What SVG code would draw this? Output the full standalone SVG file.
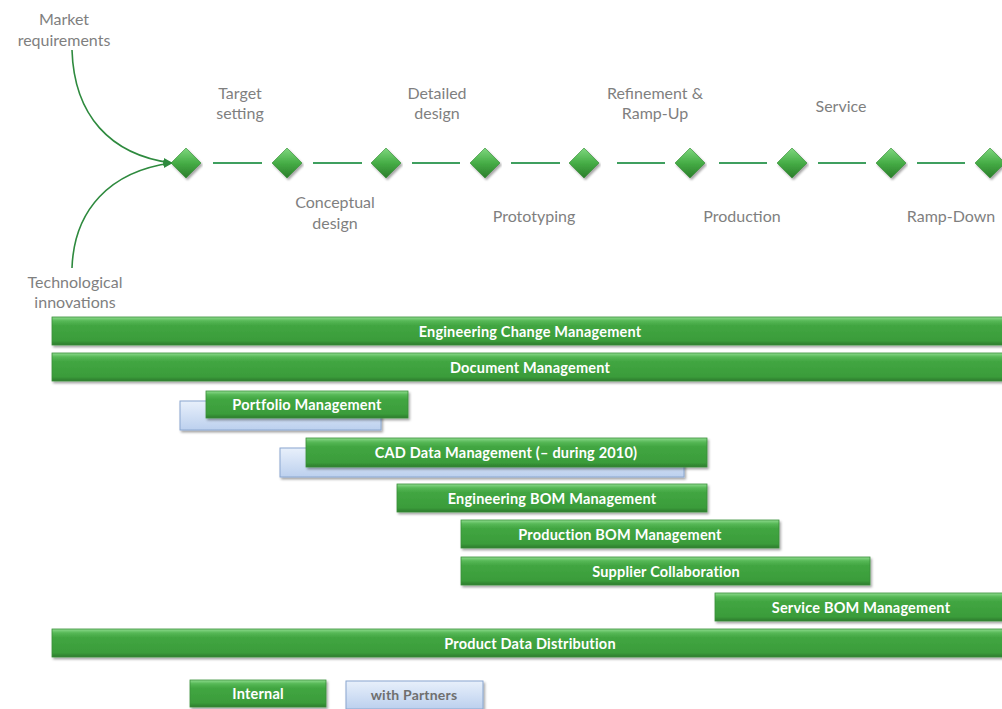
<svg xmlns="http://www.w3.org/2000/svg" width="1002" height="709" viewBox="0 0 1002 709">
  <defs>
    <linearGradient id="gBar" x1="0" y1="0" x2="0" y2="1">
      <stop offset="0" stop-color="#8fdc8f"/>
      <stop offset="0.14" stop-color="#56b856"/>
      <stop offset="0.3" stop-color="#42a642"/>
      <stop offset="0.85" stop-color="#3a9c3a"/>
      <stop offset="1" stop-color="#2b7a2b"/>
    </linearGradient>
    <linearGradient id="bBar" x1="0" y1="0" x2="0" y2="1">
      <stop offset="0" stop-color="#e8f0fb"/>
      <stop offset="1" stop-color="#bcd0ee"/>
    </linearGradient>
    <linearGradient id="gDia" x1="0" y1="0" x2="0" y2="1">
      <stop offset="0" stop-color="#7fd77f"/>
      <stop offset="0.5" stop-color="#46ad46"/>
      <stop offset="1" stop-color="#2a7d2a"/>
    </linearGradient>
    <filter id="shadow" x="-5%" y="-30%" width="110%" height="170%">
      <feDropShadow dx="1.5" dy="2" stdDeviation="1.2" flood-color="#000" flood-opacity="0.35"/>
    </filter>
    <marker id="arrow" viewBox="0 0 10 10" refX="9" refY="5" markerWidth="6" markerHeight="6" orient="auto">
      <path d="M0,1 L10,5 L0,9 z" fill="#2e8a3e"/>
    </marker>
    <style>
      .lbl { font-family: Lato, "Open Sans", sans-serif; font-size: 16px; fill: #7f7f7f; text-anchor: middle; }
      .bar { fill: url(#gBar); stroke: #3a8f3a; stroke-width: 0.8; filter: url(#shadow); }
      .pbar { fill: url(#bBar); stroke: #8aa6cf; stroke-width: 1; filter: url(#shadow); }
      .btxt { font-family: Lato, "Open Sans", sans-serif; font-size: 14.5px; letter-spacing: 0.2px; font-weight: 700; fill: #ffffff; text-anchor: middle; }
      .ptxt { font-family: Lato, "Open Sans", sans-serif; font-size: 14px; letter-spacing: 0.2px; font-weight: 700; fill: #6f6f6f; text-anchor: middle; }
      .dia { fill: url(#gDia); stroke: #2f8a2f; stroke-width: 0.6; filter: url(#shadow); }
      .seg { stroke: #3f9f5f; stroke-width: 2; fill: none; }
      .curve { stroke: #2e8a3e; stroke-width: 1.6; fill: none; }
    </style>
  </defs>

  <rect width="1002" height="709" fill="#ffffff"/>

  <!-- inputs -->
  <g id="input-market">
    <text class="lbl" x="64" y="25">Market</text>
    <text class="lbl" x="64" y="46">requirements</text>
  </g>
  <g id="input-tech">
    <text class="lbl" x="75" y="288">Technological</text>
    <text class="lbl" x="75" y="308">innovations</text>
  </g>

  <!-- connectors -->
  <g id="connectors">
    <path class="curve" d="M72,50 C74,115 110,155 172,163" marker-end="url(#arrow)"/>
    <path class="curve" d="M72,268 C74,210 110,171 172,163" marker-end="url(#arrow)"/>
    <line class="seg" x1="213" y1="163" x2="262" y2="163"/>
    <line class="seg" x1="313" y1="163" x2="362" y2="163"/>
    <line class="seg" x1="412" y1="163" x2="460" y2="163"/>
    <line class="seg" x1="511" y1="163" x2="560" y2="163"/>
    <line class="seg" x1="617" y1="163" x2="665" y2="163"/>
    <line class="seg" x1="719" y1="163" x2="767" y2="163"/>
    <line class="seg" x1="818" y1="163" x2="866" y2="163"/>
    <line class="seg" x1="917" y1="163" x2="965" y2="163"/>
  </g>

  <!-- phase milestones -->
  <g id="m1"><path class="dia" d="M186,148 L201,163 L186,178 L171,163 z"/></g>
  <g id="m2"><path class="dia" d="M287,148 L302,163 L287,178 L272,163 z"/></g>
  <g id="m3"><path class="dia" d="M386,148 L401,163 L386,178 L371,163 z"/></g>
  <g id="m4"><path class="dia" d="M485,148 L500,163 L485,178 L470,163 z"/></g>
  <g id="m5"><path class="dia" d="M584,148 L599,163 L584,178 L569,163 z"/></g>
  <g id="m6"><path class="dia" d="M690,148 L705,163 L690,178 L675,163 z"/></g>
  <g id="m7"><path class="dia" d="M792,148 L807,163 L792,178 L777,163 z"/></g>
  <g id="m8"><path class="dia" d="M891,148 L906,163 L891,178 L876,163 z"/></g>
  <g id="m9"><path class="dia" d="M990,148 L1005,163 L990,178 L975,163 z"/></g>

  <!-- phase labels -->
  <g id="phase-target"><text class="lbl" x="240" y="99">Target</text><text class="lbl" x="240" y="119">setting</text></g>
  <g id="phase-conceptual"><text class="lbl" x="335" y="208">Conceptual</text><text class="lbl" x="335" y="229">design</text></g>
  <g id="phase-detailed"><text class="lbl" x="437" y="99">Detailed</text><text class="lbl" x="437" y="119">design</text></g>
  <g id="phase-prototyping"><text class="lbl" x="534" y="222">Prototyping</text></g>
  <g id="phase-refinement"><text class="lbl" x="655" y="99">Refinement &amp;</text><text class="lbl" x="655" y="119">Ramp-Up</text></g>
  <g id="phase-production"><text class="lbl" x="742" y="222">Production</text></g>
  <g id="phase-service"><text class="lbl" x="841" y="112">Service</text></g>
  <g id="phase-rampdown"><text class="lbl" x="951" y="222">Ramp-Down</text></g>

  <!-- process bars -->
  <g id="ecm">
    <rect class="bar" x="52" y="317" width="960" height="28"/>
    <text class="btxt" x="530" y="337">Engineering Change Management</text>
  </g>
  <g id="dm">
    <rect class="bar" x="52" y="353" width="960" height="28"/>
    <text class="btxt" x="530" y="373">Document Management</text>
  </g>
  <g id="portfolio">
    <rect class="pbar" x="180" y="401" width="201" height="29"/>
    <rect class="bar" x="206" y="391" width="202" height="27"/>
    <text class="btxt" x="307" y="410">Portfolio Management</text>
  </g>
  <g id="cad">
    <rect class="pbar" x="280" y="448" width="404" height="29"/>
    <rect class="bar" x="306" y="438" width="401" height="29"/>
    <text class="btxt" x="506" y="458">CAD Data Management (– during 2010)</text>
  </g>
  <g id="ebom">
    <rect class="bar" x="397" y="484" width="310" height="28"/>
    <text class="btxt" x="552" y="504">Engineering BOM Management</text>
  </g>
  <g id="pbom">
    <rect class="bar" x="461" y="520" width="318" height="28"/>
    <text class="btxt" x="620" y="540">Production BOM Management</text>
  </g>
  <g id="supplier">
    <rect class="bar" x="461" y="557" width="409" height="28"/>
    <text class="btxt" x="666" y="577">Supplier Collaboration</text>
  </g>
  <g id="sbom">
    <rect class="bar" x="715" y="593" width="297" height="28"/>
    <text class="btxt" x="861" y="613">Service BOM Management</text>
  </g>
  <g id="pdd">
    <rect class="bar" x="52" y="629" width="960" height="28"/>
    <text class="btxt" x="530" y="649">Product Data Distribution</text>
  </g>

  <!-- legend -->
  <g id="legend-internal">
    <rect class="bar" x="190" y="680" width="136" height="27"/>
    <text class="btxt" x="258" y="699">Internal</text>
  </g>
  <g id="legend-partners">
    <rect class="pbar" x="346" y="681" width="137" height="28"/>
    <text class="ptxt" x="414" y="700">with Partners</text>
  </g>
</svg>
